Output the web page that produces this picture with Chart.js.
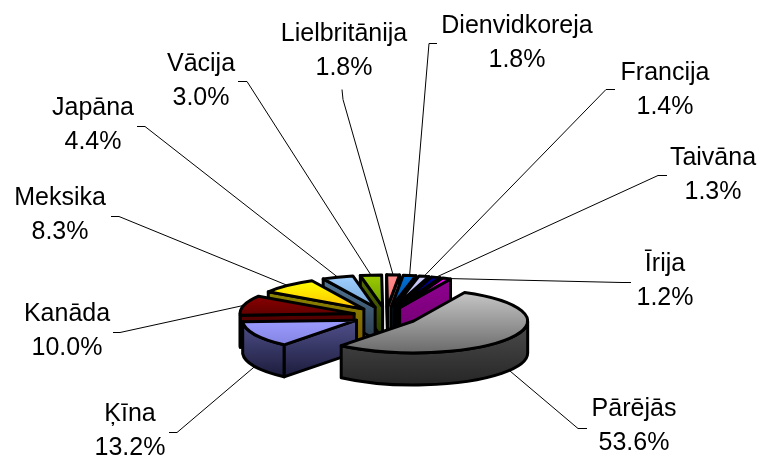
<!DOCTYPE html>
<html>
<head>
<meta charset="utf-8">
<title>Pie</title>
<script src="https://cdn.jsdelivr.net/npm/chart.js@4"></script>
<style>
    html, body { margin: 0; padding: 0; background: #fff; }
    canvas { display: block; }
</style>
</head>
<body>
<canvas id="pieChart" width="760" height="457"></canvas>
<script>
// data, clockwise from the top of the pie
const categories = ['Dienvidkoreja', 'Francija', 'Taivāna', 'Īrija', 'Pārējās', 'Ķīna', 'Kanāda', 'Meksika', 'Japāna', 'Vācija', 'Lielbritānija'];
const shares = [1.8, 1.4, 1.3, 1.2, 53.6, 13.2, 10.0, 8.3, 4.4, 3.0, 1.8];

// colours of each slice: top face (light, dark), walls (light, dark)
const topLight = ['#0070d8', '#d0d0ff', '#000090', '#ff00ff', '#c6c6c6', '#9c9cff', '#8a0000', '#ffff00', '#a0d0ff', '#9ccc00', '#ff8c8c'];
const topDark = ['#0050a0', '#a8a8e0', '#000060', '#d000d0', '#6a6a6a', '#8484e4', '#600000', '#ffc000', '#78a8d8', '#6a9a00', '#ff7070'];
const wallLight = ['#1a4a80', '#6a6a90', '#000050', '#900090', '#5e5e5e', '#50508c', '#600000', '#8c8c00', '#557a9c', '#567000', '#a86060'];
const wallDark = ['#0a2038', '#2a2a40', '#000020', '#700070', '#262626', '#1c1c3c', '#400000', '#806000', '#2a3c4c', '#2a3800', '#703838'];

// label box centres, and the short stub each leader line starts with
const labelCentres = [[517, 26], [665, 73], [713, 158], [665, 264], [634, 409], [130, 414], [67, 314], [60, 198], [93, 108], [201, 64], [344, 34]];
const stubStarts = [[437, 43], [615, 89], [667, 175], [631, 282], [587, 428], [169, 432], [113, 332], [111, 216], [137, 126], [238, 81], [342, 89]];
const stubEnds = [[429, 43], [606, 89], [658, 175], [622, 282], [578, 428], [177, 432], [120, 332], [119, 216], [145, 126], [247, 81], [343, 99]];

const squash = 0.28;
const depth = 32;
const lineHeight = 34;

function sliceGeometry(arc) {
    const p = arc.getProps(['x', 'y', 'startAngle', 'endAngle', 'outerRadius']);
    const mid = (p.startAngle + p.endAngle) / 2;
    const off = arc.options.offset;
    return {
        a: p.startAngle,
        b: p.endAngle,
        mid: mid,
        r: p.outerRadius,
        x: p.x + Math.cos(mid) * off,
        y: p.y + Math.sin(mid) * off * squash
    };
}

function rimPoint(g, angle) {
    return [g.x + g.r * Math.cos(angle), g.y + g.r * squash * Math.sin(angle)];
}

function verticalGradient(ctx, y0, y1, c0, c1) {
    const grad = ctx.createLinearGradient(0, y0, 0, y1);
    grad.addColorStop(0, c0);
    grad.addColorStop(1, c1);
    return grad;
}

function paintFace(ctx, fill) {
    ctx.fillStyle = fill;
    ctx.fill();
    ctx.stroke();
}

function drawCutFace(ctx, g, angle, fill) {
    const rim = rimPoint(g, angle);
    ctx.beginPath();
    ctx.moveTo(g.x, g.y);
    ctx.lineTo(rim[0], rim[1]);
    ctx.lineTo(rim[0], rim[1] + depth);
    ctx.lineTo(g.x, g.y + depth);
    ctx.closePath();
    paintFace(ctx, fill);
}

function drawSlice(ctx, g, i) {
    let minY = g.y;
    let maxY = g.y;
    for (let n = 0; n <= 24; n++) {
        const y = rimPoint(g, g.a + (g.b - g.a) * n / 24)[1];
        minY = Math.min(minY, y);
        maxY = Math.max(maxY, y);
    }
    const wallFill = verticalGradient(ctx, minY, maxY + depth, wallLight[i], wallDark[i]);

    // only the walls that face the viewer
    if (-Math.cos(g.a) > 0) drawCutFace(ctx, g, g.a, wallFill);
    if (Math.cos(g.b) > 0) drawCutFace(ctx, g, g.b, wallFill);
    [-2 * Math.PI, 0, 2 * Math.PI].forEach(k => {
        const lo = Math.max(g.a, k);
        const hi = Math.min(g.b, k + Math.PI);
        if (hi <= lo) return;
        ctx.beginPath();
        ctx.ellipse(g.x, g.y, g.r, g.r * squash, 0, lo, hi);
        ctx.ellipse(g.x, g.y + depth, g.r, g.r * squash, 0, hi, lo, true);
        ctx.closePath();
        paintFace(ctx, wallFill);
    });

    ctx.beginPath();
    ctx.moveTo(g.x, g.y);
    ctx.ellipse(g.x, g.y, g.r, g.r * squash, 0, g.a, g.b);
    ctx.closePath();
    paintFace(ctx, verticalGradient(ctx, minY, maxY, topLight[i], topDark[i]));
}

const flatPiePlugin = {
    id: 'flatPie',
    beforeDatasetDraw(chart, args) {
        const ctx = chart.ctx;
        const slices = args.meta.data.map((arc, i) => ({ i: i, g: sliceGeometry(arc) }));
        const order = slices.slice().sort((s, t) => Math.sin(s.g.mid) - Math.sin(t.g.mid));

        ctx.save();
        ctx.strokeStyle = '#000';
        ctx.lineWidth = 3;
        ctx.lineJoin = 'round';
        order.forEach(s => drawSlice(ctx, s.g, s.i));
        ctx.restore();

        ctx.save();
        ctx.strokeStyle = '#000';
        ctx.lineWidth = 1;
        ctx.fillStyle = '#000';
        ctx.font = '25px "Liberation Sans"';
        ctx.textAlign = 'center';
        ctx.textBaseline = 'middle';
        slices.forEach(s => {
            const end = rimPoint(s.g, s.g.mid);
            if (Math.sin(s.g.mid) > 0) end[1] += depth;
            ctx.beginPath();
            ctx.moveTo(stubStarts[s.i][0], stubStarts[s.i][1] + 0.5);
            ctx.lineTo(stubEnds[s.i][0], stubEnds[s.i][1] + 0.5);
            ctx.lineTo(end[0], end[1]);
            ctx.stroke();

            const c = labelCentres[s.i];
            ctx.fillText(categories[s.i], c[0], c[1]);
            ctx.fillText(shares[s.i].toFixed(1) + '%', c[0], c[1] + lineHeight);
        });
        ctx.restore();
        return false;
    }
};

new Chart(document.getElementById('pieChart').getContext('2d'), {
    type: 'pie',
    data: {
        labels: categories,
        datasets: [{
            data: shares,
            backgroundColor: topLight,
            offset: 33,
            borderWidth: 0
        }]
    },
    options: {
        responsive: false,
        animation: false,
        rotation: 6,
        radius: 114,
        layout: {
            padding: { left: 12, top: 175 }
        },
        plugins: {
            legend: { display: false },
            tooltip: { enabled: false }
        }
    },
    plugins: [flatPiePlugin]
});
</script>
</body>
</html>
